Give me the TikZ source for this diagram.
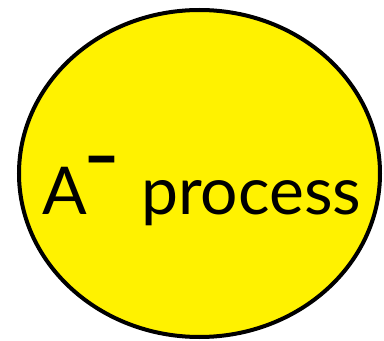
\documentclass[tikz,border=0pt]{standalone}
\usepackage{fontspec}
\usepackage{graphicx}
\setmainfont{Lato}
\begin{document}
\begin{tikzpicture}[x=1pt,y=1pt,
  blob/.style={draw=black, line width=4pt, fill=yellow},
  lbl/.style={inner sep=0pt, font=\fontsize{66}{70}\selectfont}]
\useasboundingbox (0,0) rectangle (384,341);
\path[blob] (199.5,167.5) ellipse [x radius=180.5, y radius=163.5];
\node[lbl, anchor=base west] (a) at (42,126) {A};
\node[lbl, anchor=base, font=\fontsize{66}{70}\selectfont\bfseries] (m) at (102,161) {\scalebox{1.5}[1]{-}};
\node[lbl, anchor=base west] (p) at (141,126) {process};
\end{tikzpicture}
\end{document}
